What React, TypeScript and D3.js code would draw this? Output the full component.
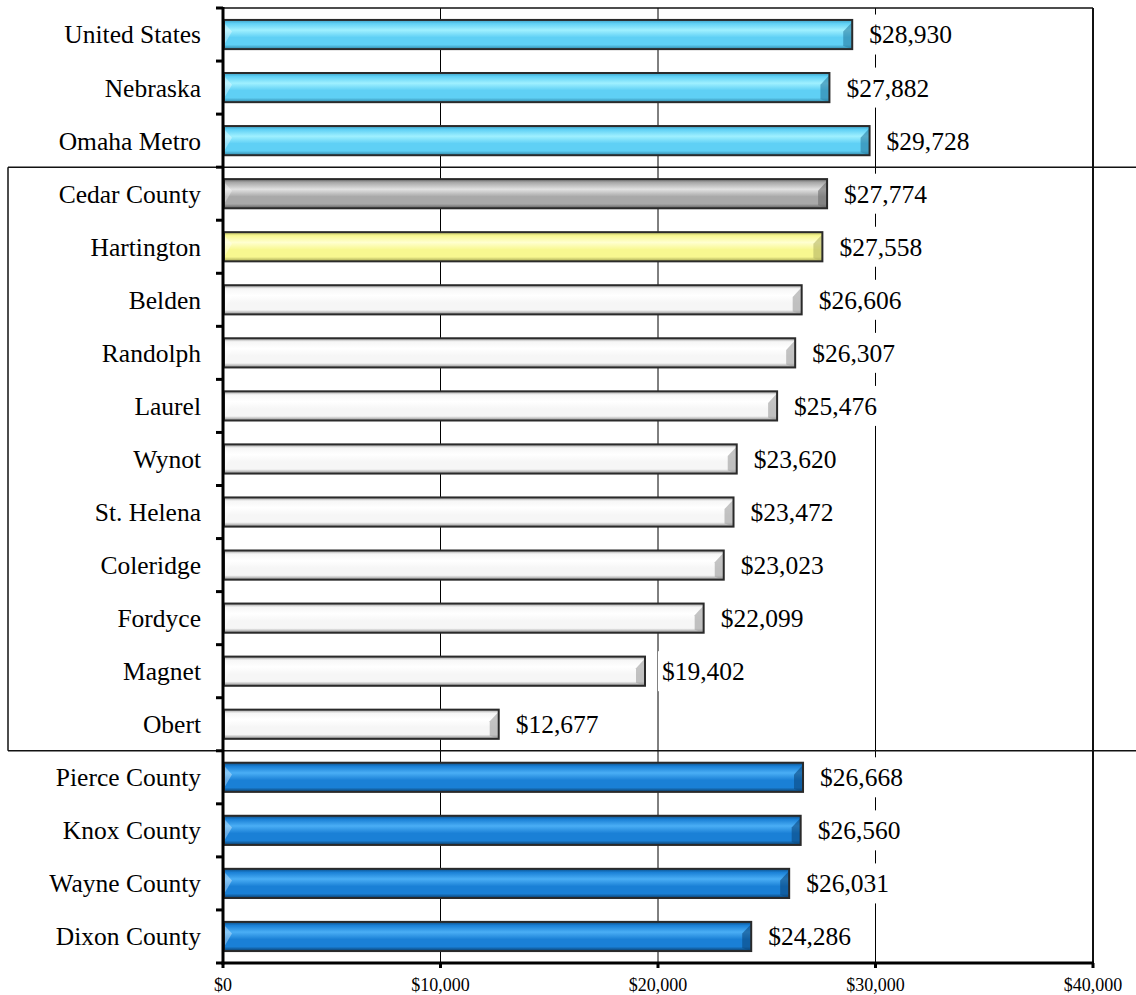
import React from "react";
import * as d3 from "d3";

const categories = [
  "United States", "Nebraska", "Omaha Metro", "Cedar County", "Hartington", "Belden",
  "Randolph", "Laurel", "Wynot", "St. Helena", "Coleridge", "Fordyce", "Magnet", "Obert",
  "Pierce County", "Knox County", "Wayne County", "Dixon County",
];
const values = [
  28930, 27882, 29728, 27774, 27558, 26606, 26307, 25476, 23620, 23472, 23023, 22099,
  19402, 12677, 26668, 26560, 26031, 24286,
];
const groups = [
  "light", "light", "light", "gray", "yellow", "white", "white", "white", "white", "white",
  "white", "white", "white", "white", "dark", "dark", "dark", "dark",
];
const xTicks = [0, 10000, 20000, 30000, 40000];

const palettes: Record<string, { top: string; hi: string; mid: string; bot: string; end: string }> = {
  light: { top: "#3d9fc4", hi: "#9ff0ff", mid: "#5fd0f5", bot: "#2f86a8", end: "#2a7fa3" },
  gray: { top: "#6e6e6e", hi: "#e2e2e2", mid: "#a9a9a9", bot: "#5e5e5e", end: "#6a6a6a" },
  yellow: { top: "#b8b860", hi: "#ffffd0", mid: "#f8f890", bot: "#a0a050", end: "#b5b565" },
  white: { top: "#9a9a9a", hi: "#ffffff", mid: "#f6f6f6", bot: "#8a8a8a", end: "#9d9d9d" },
  dark: { top: "#0d4f86", hi: "#4aaef5", mid: "#1a80d6", bot: "#0a3d6a", end: "#0c4a80" },
};

const W = 1136;
const H = 995;
const x = d3.scaleLinear().domain([0, 40000]).range([223, 1093]);
const y = d3.scaleBand<string>().domain(categories).range([8, 963]).paddingInner(0.45).paddingOuter(0.225);
const fmt = (v: number) => "$" + d3.format(",")(v);
const serif = "'Liberation Serif', 'Times New Roman', serif";

export default function App() {
  const bw = y.bandwidth();
  const step = y.step();
  const top = 8;
  const bottom = 963;
  const boundaries = d3.range(categories.length + 1).map((k) => top + k * step);
  return (
    <div style={{ position: "absolute", left: 0, top: 0 }}>
      <svg width={W} height={H} style={{ display: "block", background: "#fff" }}>
        <defs>
          {Object.entries(palettes).map(([k, p]) => (
            <linearGradient key={k} id={"g-" + k} x1="0" y1="0" x2="0" y2="1">
              <stop offset="0" stopColor={p.top} />
              <stop offset="0.12" stopColor={p.mid} />
              <stop offset="0.35" stopColor={p.hi} />
              <stop offset="0.6" stopColor={p.mid} />
              <stop offset="0.85" stopColor={p.mid} />
              <stop offset="1" stopColor={p.bot} />
            </linearGradient>
          ))}
        </defs>
        {/* gridlines */}
        {xTicks.slice(1, 4).map((t) => (
          <line key={t} x1={x(t)} x2={x(t)} y1={top} y2={bottom} stroke="#000" strokeWidth={1} />
        ))}
        {/* box lines */}
        <line x1={223} x2={1093} y1={top} y2={top} stroke="#111" strokeWidth={1.5} />
        <line x1={1093} x2={1093} y1={top} y2={bottom} stroke="#111" strokeWidth={2} />
        <line x1={8} x2={1136} y1={boundaries[3]} y2={boundaries[3]} stroke="#111" strokeWidth={1.5} />
        <line x1={8} x2={1136} y1={boundaries[14]} y2={boundaries[14]} stroke="#111" strokeWidth={1.5} />
        <line x1={8} x2={8} y1={boundaries[3]} y2={boundaries[14]} stroke="#111" strokeWidth={1.5} />
        {/* bars */}
        {categories.map((c, i) => {
          const p = palettes[groups[i]];
          const y0 = (y(c) as number);
          const x0 = x(0) + 1;
          const x1 = x(values[i]);
          const bev = 9;
          return (
            <g key={c}>
              <rect x={x0} y={y0} width={x1 - x0} height={bw} fill={`url(#g-${groups[i]})`} />
              <polygon
                points={`${x1 - bev},${y0 + bw * 0.4} ${x1},${y0 + 2} ${x1},${y0 + bw} ${x1 - bev},${y0 + bw - 3}`}
                fill={p.end}
                opacity={0.6}
              />
              <polygon
                points={`${x0},${y0 + 3} ${x0 + 8},${y0 + bw * 0.4} ${x0},${y0 + bw - 4}`}
                fill="#ffffff"
                opacity={0.35}
              />
              <rect x={x0} y={y0} width={x1 - x0} height={bw} fill="none" stroke="#2a2a2a" strokeWidth={2} />
            </g>
          );
        })}
        {/* value labels */}
        {categories.map((c, i) => {
          const cy = (y(c) as number) + bw / 2;
          const lx = x(values[i]) + 17;
          return (
            <g key={"v" + c}>
              <rect x={lx - 4} y={cy - 20} width={92} height={40} fill="#fff" />
              <text x={lx} y={cy} dy="0.35em" fontFamily={serif} fontSize={25.5} fill="#000">
                {fmt(values[i])}
              </text>
            </g>
          );
        })}
        {/* axes */}
        <line x1={223} x2={223} y1={top - 1} y2={bottom + 1.5} stroke="#000" strokeWidth={3} />
        <line x1={221.5} x2={1094} y1={bottom} y2={bottom} stroke="#000" strokeWidth={3} />
        {boundaries.map((b, k) => (
          <line key={"yt" + k} x1={216} x2={223} y1={b} y2={b} stroke="#000" strokeWidth={3} />
        ))}
        {xTicks.map((t) => (
          <line key={"xt" + t} x1={x(t)} x2={x(t)} y1={bottom} y2={bottom + 5} stroke="#000" strokeWidth={3} />
        ))}
        {categories.map((c) => (
          <text key={"c" + c} x={201} y={(y(c) as number) + bw / 2} dy="0.35em" textAnchor="end"
            fontFamily={serif} fontSize={25.5} fill="#000">
            {c}
          </text>
        ))}
        {xTicks.map((t) => (
          <text key={"xl" + t} x={x(t)} y={985} dy="0.35em" textAnchor="middle" fontFamily={serif}
            fontSize={18} fill="#000">
            {fmt(t)}
          </text>
        ))}
      </svg>
    </div>
  );
}
